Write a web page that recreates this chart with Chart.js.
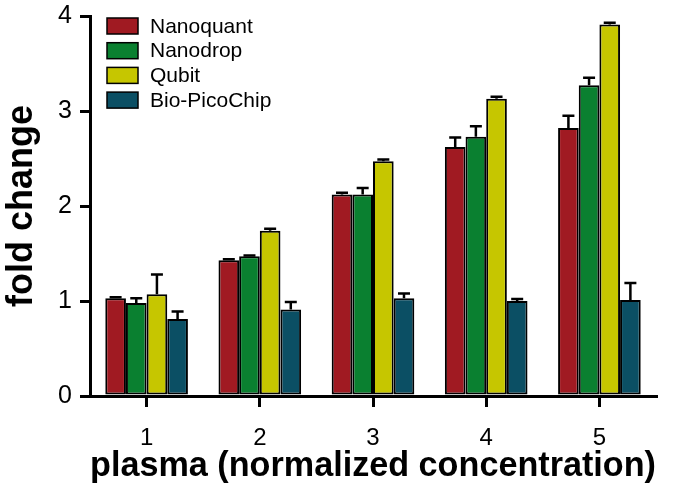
<!DOCTYPE html>
<html>
<head>
<meta charset="utf-8">
<script src="https://cdn.jsdelivr.net/npm/chart.js@4.4.1/dist/chart.umd.min.js"></script>
<style>
  html, body { margin: 0; padding: 0; background: #fff; }
</style>
</head>
<body>
<canvas id="myChart" width="675" height="496"></canvas>
<script>
let labels = ['1', '2', '3', '4', '5'];

let seriesNames = ['Nanoquant', 'Nanodrop', 'Qubit', 'Bio-PicoChip'];

let colors = ['#a01a22', '#0a8030', '#c6c600', '#0b4f64'];

let nanoquant = [1.03, 1.43, 2.12, 2.62, 2.82];
let nanodrop = [0.98, 1.47, 2.12, 2.73, 3.27];
let qubit = [1.07, 1.74, 2.47, 3.13, 3.91];
let picochip = [0.81, 0.91, 1.03, 1.00, 1.01];

// upper error (SEM) for each series
let nanoquantErr = [0.01, 0.01, 0.02, 0.10, 0.13];
let nanodropErr = [0.05, 0.01, 0.07, 0.11, 0.08];
let qubitErr = [0.21, 0.02, 0.02, 0.02, 0.02];
let picochipErr = [0.08, 0.08, 0.05, 0.02, 0.18];

let yTicks = [0, 1, 2, 3, 4];

let values = [nanoquant, nanodrop, qubit, picochip];
let errors = [nanoquantErr, nanodropErr, qubitErr, picochipErr];

const FONT = '"Liberation Sans", Arial, sans-serif';

// draws the upper whisker of each bar
const errorBars = {
    id: 'errorBars',
    afterDatasetsDraw(chart) {
        const ctx = chart.ctx;
        const y = chart.scales.y;
        ctx.save();
        ctx.strokeStyle = '#000';
        ctx.lineWidth = 2.5;
        chart.data.datasets.forEach((ds, i) => {
            const meta = chart.getDatasetMeta(i);
            meta.data.forEach((bar, j) => {
                const top = y.getPixelForValue(ds.data[j] + ds.errors[j]);
                ctx.beginPath();
                ctx.moveTo(bar.x, bar.y);
                ctx.lineTo(bar.x, top);
                ctx.moveTo(bar.x - 6, top);
                ctx.lineTo(bar.x + 6, top);
                ctx.stroke();
            });
        });
        ctx.restore();
    }
};

// legend inside the plot, top left
const insideLegend = {
    id: 'insideLegend',
    afterDraw(chart) {
        const ctx = chart.ctx;
        ctx.save();
        ctx.font = '21px ' + FONT;
        ctx.textBaseline = 'middle';
        chart.data.datasets.forEach((ds, i) => {
            const yy = 18 + i * 24.7;
            ctx.fillStyle = ds.backgroundColor;
            ctx.fillRect(107, yy, 31, 16);
            ctx.strokeStyle = '#000';
            ctx.lineWidth = 1.5;
            ctx.strokeRect(107, yy, 31, 16);
            ctx.fillStyle = '#000';
            ctx.fillText(ds.label, 150, yy + 9);
        });
        ctx.restore();
    }
};

let myChart = document.getElementById('myChart').getContext('2d');

let chart = new Chart(myChart, {
    type: 'bar',
    data: {
        labels: labels,
        datasets: seriesNames.map((name, i) => ({
            label: name,
            data: values[i],
            errors: errors[i],
            backgroundColor: colors[i],
            borderColor: '#000',
            borderWidth: 2,
            borderSkipped: false,
            categoryPercentage: 0.73,
            barPercentage: 1.0
        }))
    },
    options: {
        responsive: false,
        animation: false,
        layout: {
            padding: { top: 16, right: 19, left: 0, bottom: 0 }
        },
        plugins: {
            legend: { display: false },
            tooltip: { enabled: false }
        },
        scales: {
            x: {
                grid: {
                    display: true,
                    drawOnChartArea: false,
                    offset: false,
                    color: '#000',
                    lineWidth: 3,
                    tickLength: 11
                },
                border: { display: true, color: '#000', width: 3 },
                ticks: {
                    color: '#000',
                    font: { family: FONT, size: 24 },
                    padding: 17
                },
                title: {
                    display: true,
                    text: 'plasma (normalized concentration)',
                    color: '#000',
                    font: { family: FONT, size: 35.5, weight: 'bold' },
                    padding: { top: 0, bottom: 8 }
                },
                afterFit(scale) {
                    scale.height = 100;
                    scale.paddingLeft = 0;
                    scale.paddingRight = 0;
                }
            },
            y: {
                min: 0,
                max: 4,
                afterBuildTicks(scale) {
                    scale.ticks = yTicks.map(v => ({ value: v }));
                },
                grid: {
                    display: true,
                    drawOnChartArea: false,
                    color: '#000',
                    lineWidth: 3,
                    tickLength: 10
                },
                border: { display: true, color: '#000', width: 3 },
                ticks: {
                    color: '#000',
                    font: { family: FONT, size: 25 },
                    padding: 8
                },
                title: {
                    display: true,
                    text: 'fold change',
                    color: '#000',
                    font: { family: FONT, size: 36, weight: 'bold' },
                    padding: { top: 0, bottom: 0 }
                },
                afterFit(scale) {
                    scale.width = 90;
                    scale.paddingTop = 0;
                    scale.paddingBottom = 0;
                }
            }
        }
    },
    plugins: [errorBars, insideLegend]
});
</script>
</body>
</html>
